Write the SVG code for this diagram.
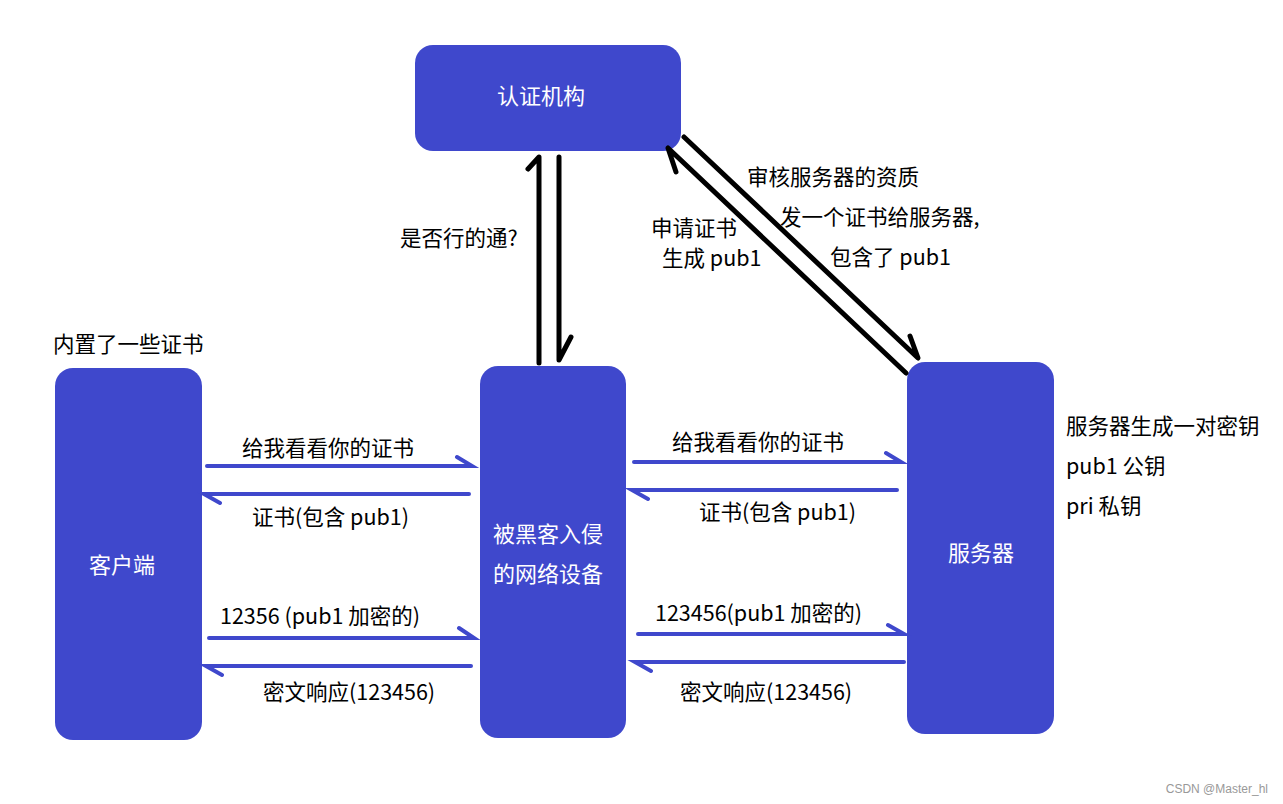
<svg xmlns="http://www.w3.org/2000/svg" width="1283" height="804" viewBox="0 0 1283 804">
<style>
.n{fill:#3f48cc}
.w{fill:#fff;font-family:"Noto Sans CJK SC",sans-serif;font-size:22px;text-anchor:middle}
.t{fill:#000;font-family:"Noto Sans CJK SC",sans-serif;font-size:21.5px}
.b{stroke:#3f48cc;stroke-width:4;fill:none;stroke-linecap:round}
.k{stroke:#000;stroke-width:5;fill:none;stroke-linecap:round;stroke-linejoin:round}
</style>
<rect width="1283" height="804" fill="#fff"/>
<g id="ca"><rect class="n" x="415" y="45" width="266" height="106" rx="18"/><text class="w" x="541" y="104">认证机构</text></g>
<g id="client"><rect class="n" x="55" y="368" width="147" height="372" rx="18"/><text class="w" x="122" y="573">客户端</text></g>
<g id="mitm"><rect class="n" x="480" y="366" width="146" height="372" rx="18"/><text class="w" x="548" y="542">被黑客入侵</text><text class="w" x="548" y="582">的网络设备</text></g>
<g id="server"><rect class="n" x="907" y="362" width="147" height="372" rx="18"/><text class="w" x="981" y="561">服务器</text></g>
<g id="connectors">
<path class="k" d="M539 363V157L528 169"/>
<path class="k" d="M559 157V360L571 337"/>
<path class="k" d="M684 137L918 358L910 336"/>
<path class="k" d="M906 373L668 148L676 172"/>
<path class="b" d="M207 466H472L457 457"/>
<path class="b" d="M469 494H204L220 503"/>
<path class="b" d="M209 638H474L459 628"/>
<path class="b" d="M471 666H206L222 675"/>
<path class="b" d="M634 462H901L886 453"/>
<path class="b" d="M897 490H632L648 499"/>
<path class="b" d="M638 634H904L888 625"/>
<path class="b" d="M904 662H635L651 671"/>
</g>
<g class="t">
<text x="53" y="352">内置了一些证书</text>
<text x="400" y="246">是否行的通?</text>
<text x="651" y="236">申请证书</text>
<text x="662" y="266">生成 pub1</text>
<text x="747" y="185">审核服务器的资质</text>
<text x="780" y="225">发一个证书给服务器,</text>
<text x="830" y="265">包含了 pub1</text>
<text x="1066" y="434">服务器生成一对密钥</text>
<text x="1066" y="474">pub1 公钥</text>
<text x="1066" y="514">pri 私钥</text>
<text x="242" y="456">给我看看你的证书</text>
<text x="252" y="525">证书(包含 pub1)</text>
<text x="220" y="624">12356 (pub1 加密的)</text>
<text x="263" y="700">密文响应(123456)</text>
<text x="672" y="450">给我看看你的证书</text>
<text x="699" y="520">证书(包含 pub1)</text>
<text x="655" y="621">123456(pub1 加密的)</text>
<text x="680" y="700">密文响应(123456)</text>
</g>
<text x="1268" y="793" text-anchor="end" font-family="Liberation Sans,sans-serif" font-size="12" fill="#999">CSDN @Master_hl</text>
</svg>
